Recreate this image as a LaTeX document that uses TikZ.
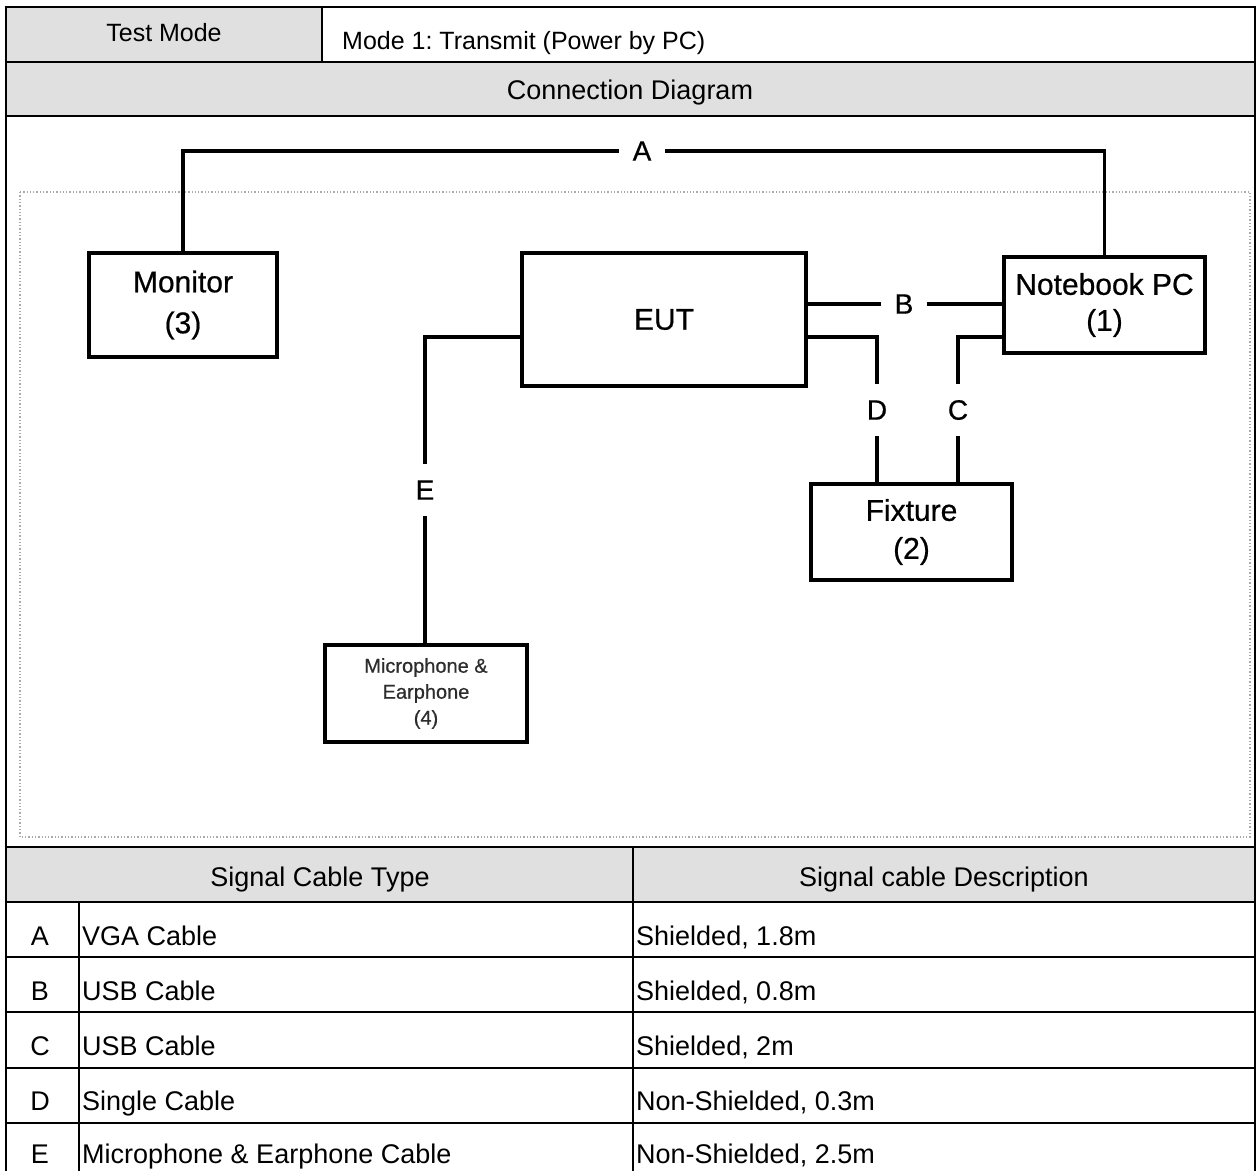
\documentclass[tikz,border=0pt]{standalone}
\usepackage{fontspec}
\setmainfont{Liberation Sans}
\newfontfamily\devfont{Liberation Sans}[FakeBold=0.6]
\definecolor{hdr}{RGB}{224,224,224}
\definecolor{dotc}{RGB}{170,170,170}
\definecolor{mictxt}{RGB}{45,45,45}
\frenchspacing
\begin{document}
\begin{tikzpicture}[x=1pt,y=-1pt,
  tline/.style={line width=2.8pt},
  wire/.style={line width=3.1pt},
  txt/.style={inner sep=0pt, font=\fontsize{27}{32}\selectfont},
  devbox/.style={draw, line width=3.4pt, align=center, inner sep=0pt, font=\devfont\fontsize{30}{38}\selectfont},
  hlab/.style={inner sep=0pt, minimum width=46pt, minimum height=20pt, font=\devfont\fontsize{28}{30}\selectfont},
  vlab/.style={inner sep=0pt, minimum width=20pt, minimum height=52pt, font=\devfont\fontsize{28}{30}\selectfont}
]
\useasboundingbox (0,0) rectangle (1258,1171);
% header fills
\fill[hdr] (6,7) rectangle (322,62);
\fill[hdr] (6,62) rectangle (1255,116);
\fill[hdr] (6,847) rectangle (1255,902);
% dotted frame
\draw[dotc, dotted, line width=1.3pt] (20,192) rectangle (1250,837);

% devices
\node[devbox, minimum width=188pt, minimum height=104pt, font=\devfont\fontsize{30}{41}\selectfont] (mon) at (183,305) {Monitor\\(3)};
\node[devbox, minimum width=284pt, minimum height=133pt] (eut) at (664,319.5) {EUT};
\node[devbox, minimum width=201pt, minimum height=96pt, font=\devfont\fontsize{30}{36}\selectfont] (nb) at (1104.5,305) {Notebook PC\\(1)};
\node[devbox, minimum width=201pt, minimum height=96pt] (fix) at (911.5,532) {Fixture\\(2)};
\node[devbox, minimum width=202pt, minimum height=97pt, font=\devfont\fontsize{20}{26}\selectfont, text=mictxt] (mic) at (426,693.5) {Microphone \&\\Earphone\\(4)};

% cable labels
\node[hlab] (labA) at (642,151) {A};
\node[hlab] (labB) at (904,304) {B};
\node[vlab] (labD) at (877,410) {D};
\node[vlab] (labC) at (958,410) {C};
\node[vlab] (labE) at (425,490) {E};
\coordinate (yDC) at (0,337);

% connectors
\draw[wire] (mon.north) |- (labA.west);
\draw[wire] (labA.east) -| (nb.north);
\draw[wire] (eut.east |- labB.west) -- (labB.west);
\draw[wire] (labB.east) -- (nb.west |- labB.east);
\draw[wire] (eut.east |- yDC) -| (labD.north);
\draw[wire] (labD.south) -- (labD.south |- fix.north);
\draw[wire] (nb.west |- yDC) -| (labC.north);
\draw[wire] (labC.south) -- (labC.south |- fix.north);
\draw[wire] (eut.west |- yDC) -| (labE.north);
\draw[wire] (labE.south) -- (labE.south |- mic.north);

% table lines
\foreach \yy in {7,62,116,847,902,957,1012,1068,1123}
  \draw[tline] (4.6,\yy) -- (1256.4,\yy);
\draw[tline] (6,5.6) -- (6,1171);
\draw[tline] (1255,5.6) -- (1255,1171);
\draw[tline] (322,7) -- (322,62);
\draw[tline] (79,902) -- (79,1171);
\draw[tline] (633,847) -- (633,1171);

% header texts
\node[txt, anchor=base, font=\fontsize{25}{30}\selectfont] (tm) at (164,41) {Test Mode};
\node[txt, anchor=base west, font=\fontsize{25}{30}\selectfont] (tmv) at (342,49) {Mode 1: Transmit (Power by PC)};
\node[txt, anchor=base] (cdg) at (630,99) {Connection Diagram};
\node[txt, anchor=base] (sct) at (320,886) {Signal Cable Type};
\node[txt, anchor=base] (scd) at (944,886) {Signal cable Description};

% rows
\node[txt, anchor=base] (rA) at (40,945) {A};
\node[txt, anchor=base west] (tA) at (82,945) {VGA Cable};
\node[txt, anchor=base west] (dA) at (636,945) {Shielded, 1.8m};
\node[txt, anchor=base] (rB) at (40,1000) {B};
\node[txt, anchor=base west] (tB) at (82,1000) {USB Cable};
\node[txt, anchor=base west] (dB) at (636,1000) {Shielded, 0.8m};
\node[txt, anchor=base] (rC) at (40,1055) {C};
\node[txt, anchor=base west] (tC) at (82,1055) {USB Cable};
\node[txt, anchor=base west] (dC) at (636,1055) {Shielded, 2m};
\node[txt, anchor=base] (rD) at (40,1110) {D};
\node[txt, anchor=base west] (tD) at (82,1110) {Single Cable};
\node[txt, anchor=base west] (dD) at (636,1110) {Non-Shielded, 0.3m};
\node[txt, anchor=base] (rE) at (40,1163) {E};
\node[txt, anchor=base west] (tE) at (82,1163) {Microphone \& Earphone Cable};
\node[txt, anchor=base west] (dE) at (636,1163) {Non-Shielded, 2.5m};
\end{tikzpicture}
\end{document}
